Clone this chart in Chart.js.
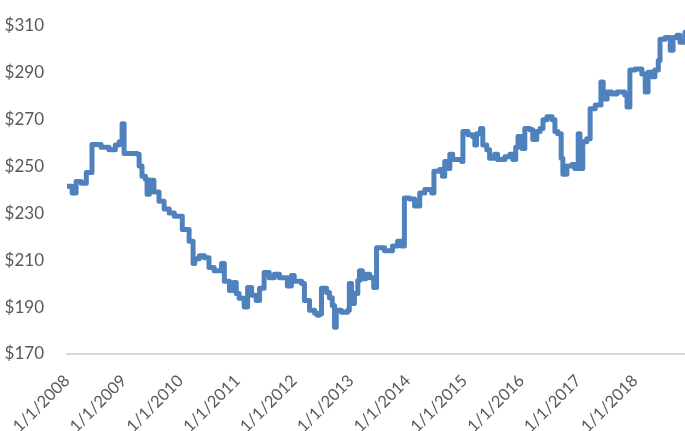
<!DOCTYPE html>
<html>
<head>
<meta charset="utf-8">
<script src="https://cdn.jsdelivr.net/npm/chart.js@4/dist/chart.umd.min.js"></script>
<style>
  body { margin: 0; background: #fff; }
  #wrap { width: 685px; height: 431px; }
</style>
</head>
<body>
<div id="wrap"><canvas id="priceChart"></canvas></div>
<script>
// Position in time as decimal years (2008.00 = 1/1/2008)
const dates = [
  2008.00, 2008.09, 2008.16, 2008.25, 2008.34, 2008.44, 2008.60, 2008.74, 2008.85, 2008.92,
  2008.97, 2009.005, 2009.24, 2009.27, 2009.32, 2009.38, 2009.41, 2009.45, 2009.53, 2009.62,
  2009.71, 2009.80, 2009.89, 2010.03, 2010.15, 2010.22, 2010.25, 2010.33, 2010.42, 2010.50,
  2010.59, 2010.72, 2010.77, 2010.86, 2010.93, 2010.98, 2011.03, 2011.12, 2011.18, 2011.25,
  2011.33, 2011.39, 2011.47, 2011.56, 2011.65, 2011.74, 2011.83, 2011.88, 2011.95, 2012.00,
  2012.13, 2012.18, 2012.27, 2012.36, 2012.41, 2012.44, 2012.48, 2012.57, 2012.62, 2012.67,
  2012.71, 2012.74, 2012.83, 2012.94, 2012.97, 2013.01, 2013.06, 2013.12, 2013.15, 2013.20,
  2013.26, 2013.33, 2013.40, 2013.45, 2013.59, 2013.73, 2013.82, 2013.89, 2013.94, 2014.03,
  2014.12, 2014.21, 2014.30, 2014.42, 2014.46, 2014.56, 2014.61, 2014.65, 2014.70, 2014.74,
  2014.79, 2014.88, 2014.95, 2014.97, 2015.06, 2015.14, 2015.18, 2015.21, 2015.28, 2015.32,
  2015.39, 2015.44, 2015.53, 2015.58, 2015.71, 2015.80, 2015.85, 2015.90, 2015.94, 2016.01,
  2016.06, 2016.15, 2016.20, 2016.27, 2016.33, 2016.38, 2016.45, 2016.54, 2016.59, 2016.64,
  2016.70, 2016.73, 2016.80, 2016.89, 2016.94, 2017.00, 2017.03, 2017.08, 2017.15, 2017.21,
  2017.30, 2017.35, 2017.40, 2017.44, 2017.51, 2017.59, 2017.68, 2017.74, 2017.82, 2017.86,
  2017.91, 2018.00, 2018.09, 2018.12, 2018.18, 2018.23, 2018.30, 2018.35, 2018.41, 2018.44,
  2018.53, 2018.58, 2018.62, 2018.67, 2018.74, 2018.79, 2018.88
];
const prices = [
  241.4, 238.5, 243.5, 242.7, 247.3, 259.2, 258.0, 257.0, 259.0, 260.4,
  268.0, 255.4, 255.0, 250.0, 245.7, 244.4, 238.0, 244.0, 239.0, 235.0,
  231.7, 230.0, 228.7, 223.0, 218.0, 208.5, 210.6, 211.8, 211.0, 206.8,
  205.5, 208.5, 201.0, 197.0, 200.4, 195.8, 193.7, 190.0, 198.3, 195.0,
  192.8, 198.0, 204.7, 202.5, 204.0, 202.5, 202.5, 199.0, 203.4, 201.0,
  200.0, 192.8, 188.6, 187.3, 186.5, 187.0, 198.0, 196.2, 194.0, 190.7,
  181.4, 188.6, 187.8, 188.6, 200.0, 191.5, 195.8, 201.3, 205.5, 202.0,
  204.0, 202.5, 198.3, 215.2, 214.0, 216.0, 218.0, 216.0, 236.4, 236.0,
  233.0, 238.5, 240.0, 238.5, 247.8, 248.6, 245.7, 252.0, 249.0, 255.0,
  252.8, 252.8, 252.0, 264.7, 263.4, 262.6, 259.0, 263.8, 266.0, 259.0,
  257.0, 253.3, 255.0, 252.8, 254.0, 255.0, 252.8, 258.0, 262.6, 257.5,
  266.0, 265.5, 261.3, 264.7, 266.0, 269.7, 271.0, 269.7, 264.7, 263.8,
  253.3, 246.5, 250.0, 250.7, 249.0, 263.8, 249.0, 260.4, 261.7, 274.4,
  276.0, 276.0, 285.8, 278.6, 281.6, 280.7, 281.6, 281.6, 280.3, 275.2,
  290.9, 291.3, 291.3, 289.2, 281.6, 290.0, 288.0, 290.9, 295.0, 304.0,
  304.8, 304.8, 299.3, 304.8, 305.7, 302.7, 307.0
];
const yTicks = [170, 190, 210, 230, 250, 270, 290, 310];
const firstYear = 2008;
const lastYear = 2018;

const points = dates.map((d, i) => ({ x: d, y: prices[i] }));
const fontFamily = 'Lato, "Open Sans", sans-serif';

new Chart(document.getElementById('priceChart'), {
    type: 'line',
    data: {
        datasets: [{
            data: points,
            borderColor: '#4f81bd',
            borderWidth: 5,
            borderJoinStyle: 'round',
            borderCapStyle: 'round',
            stepped: true,
            pointRadius: 0,
            fill: false
        }]
    },
    options: {
        responsive: true,
        maintainAspectRatio: false,
        animation: false,
        layout: { padding: { top: 23, right: 0, left: 0, bottom: 0 } },
        plugins: { legend: { display: false }, tooltip: { enabled: false } },
        scales: {
            x: {
                type: 'linear',
                min: firstYear,
                max: dates[dates.length - 1],
                grid: { display: false },
                border: { display: true, color: '#d9d9d9', width: 2 },
                afterFit: (s) => { s.height = 77; },
                afterBuildTicks: (s) => {
                    const t = [];
                    for (let y = firstYear; y <= lastYear; y++) t.push({ value: y });
                    s.ticks = t;
                },
                ticks: {
                    autoSkip: false,
                    maxRotation: 45,
                    minRotation: 45,
                    padding: 9,
                    color: '#595959',
                    font: { family: fontFamily, size: 16.5 },
                    callback: (v) => '1/1/' + v
                }
            },
            y: {
                min: yTicks[0],
                max: yTicks[yTicks.length - 1],
                grid: { display: false },
                border: { display: false },
                afterFit: (s) => { s.width = 67; },
                ticks: {
                    stepSize: 20,
                    padding: 15,
                    color: '#595959',
                    font: { family: fontFamily, size: 17 },
                    callback: (v) => '$' + v
                }
            }
        }
    }
});
</script>
</body>
</html>
